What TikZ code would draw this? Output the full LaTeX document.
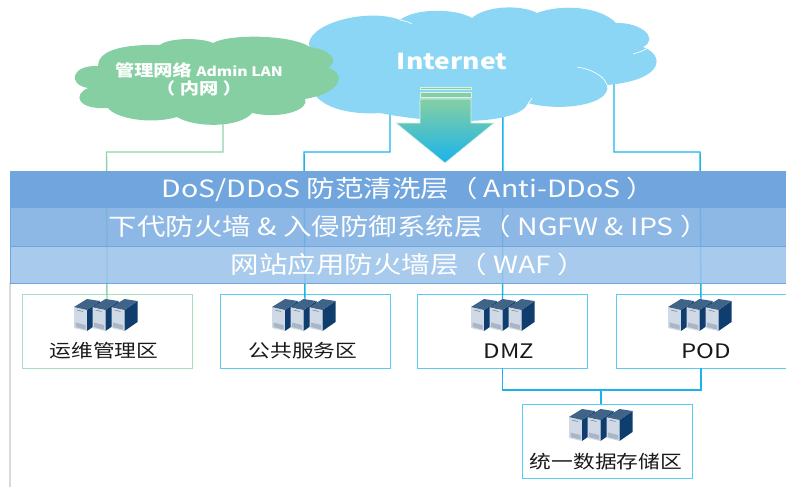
\documentclass[tikz,border=0pt]{standalone}
\usepackage{fontspec}
\setmainfont[FakeStretch=1.2]{Noto Sans CJK SC}
\definecolor{inetblue}{HTML}{8AD6F4}
\definecolor{langreen}{HTML}{85CFA2}
\definecolor{linkblue}{HTML}{1AB3EC}
\definecolor{linkgreen}{HTML}{8FD3AB}
\definecolor{boxblue}{HTML}{5CCBF3}
\definecolor{boxgreen}{HTML}{A5DFBD}
\definecolor{layerone}{HTML}{70A5DE}
\definecolor{layertwo}{HTML}{7DAEE1}
\definecolor{layerthree}{HTML}{9CC3E9}
\definecolor{layerline}{HTML}{6FA6DC}
\definecolor{unitfront}{HTML}{D0DAE6}
\definecolor{unitside}{HTML}{0F3D6E}
\definecolor{unittop}{HTML}{3F6488}
\definecolor{unitvent}{HTML}{A8B6C6}
\tikzset{
	bluelink/.style={draw=linkblue, line width=1.1pt},
	greenlink/.style={draw=linkgreen, line width=1.1pt},
	layer/.style={rectangle, draw=layerline, fill=#1, text=white, minimum width=582pt, inner sep=0pt, font=\fontsize{17.8}{20}\selectfont},
	zone/.style={rectangle, draw=#1, line width=0.7pt, minimum width=127.5pt, minimum height=55.5pt, inner sep=0pt},
	zonelabel/.style={inner sep=0pt, text=black!90, font=\fontsize{13.6}{16}\selectfont},
	cloudlabel/.style={inner sep=0pt, text=white},
	unit/.pic={
		\fill[unitfront] (0,0) -- (13,3) -- (13,24) -- (0,21) -- cycle;
		\fill[unitside] (13,3) -- (26,-6) -- (26,15) -- (13,24) -- cycle;
		\fill[unittop] (0,0) -- (13,3) -- (26,-6) -- (13,-8) -- cycle;
		\fill[unitvent] (1.5,15.5) -- (11.5,18) -- (11.5,22.5) -- (1.5,20) -- cycle;
		\draw[black!50, line width=0.4pt] (3,3) -- (9,4.5);
	},
	rack/.pic={
		\pic at (0,0) {unit};
		\pic at (18.5,0) {unit};
		\pic at (37.5,0) {unit};
	}
}
\begin{document}
\begin{tikzpicture}[x=0.75pt, y=-0.75pt]
	\useasboundingbox (0,0) rectangle (786,487);
	\draw[black!15, line width=0.8pt] (10,283) -- (10,487);

	\node[zone=boxgreen] (ops) at (107,331) {};
	\node[zone=boxblue] (pub) at (305,331) {};
	\node[zone=boxblue] (dmz) at (502.5,331) {};
	\node[zone=boxblue] (pod) at (701,331) {};
	\node[zone=boxblue] (store) at (607,441.5) {};

	\coordinate (lanfoot) at (223,120);
	\coordinate (inetleft) at (390,105);
	\coordinate (inetmid) at (503,105);
	\coordinate (inetright) at (614,80);
	\coordinate (turnops) at (106.5,152);
	\coordinate (turnpub) at (304,152);
	\coordinate (turnpod) at (700,152);
	\coordinate (busjoin) at (601,390);

	\draw[greenlink] (lanfoot) |- (turnops) -- ([yshift=-5pt]ops.north);
	\draw[bluelink] (inetleft) |- (turnpub) -- ([yshift=-5pt]pub.north);
	\draw[bluelink] (inetmid) -- ([yshift=-5pt]dmz.north);
	\draw[bluelink] (inetright) |- (turnpod) -- ([yshift=-5pt]pod.north);
	\draw[bluelink] (dmz.south) |- (busjoin) -| (pod.south);
	\draw[bluelink] (busjoin) -- (busjoin |- store.north);

	\node[layer=layerone, minimum height=27pt] (antiddos) at (398,189) {\hspace{16pt}DoS/DDoS 防范清洗层（ Anti-DDoS ）};
	\node[layer=layertwo, minimum height=29.25pt, fill opacity=0.88, text opacity=1] (ngfw) at (398,226.5) {\hspace{16pt}下代防火墙 \& 入侵防御系统层（ NGFW \& IPS ）};
	\node[layer=layerthree, minimum height=27.75pt, fill opacity=0.88, text opacity=1] (waf) at (398,264.5) {\hspace{16pt}网站应用防火墙层（ WAF ）};

	\fill[inetblue] (309,43)
		.. controls (312,22) and (370,8) .. (400,20)
		.. controls (415,8) and (455,8) .. (472,18)
		.. controls (485,6) and (520,4) .. (537,13)
		.. controls (560,4) and (600,6) .. (616,23)
		.. controls (640,22) and (660,38) .. (643,47)
		.. controls (665,55) and (665,80) .. (607,85)
		.. controls (612,105) and (560,112) .. (528,103)
		.. controls (520,125) and (440,125) .. (380,113)
		.. controls (350,115) and (325,108) .. (315,95)
		-- cycle;
	\draw[white, line width=0.5pt] (400,20) .. controls (405,21) and (409,22) .. (412,24);
	\draw[white, line width=0.5pt] (633,54) .. controls (640,52) and (646,50) .. (650,46);
	\draw[white, line width=0.5pt] (577,67) .. controls (590,69) and (604,75) .. (607,85);
	\draw[white, line width=0.5pt] (528,103) .. controls (530,102) and (531,100) .. (532,98);

	\fill[langreen] (98,66)
		.. controls (98,52) and (118,44) .. (160,45)
		.. controls (168,38) and (200,37) .. (213,43)
		.. controls (228,34) and (290,34) .. (310,47)
		.. controls (330,50) and (340,60) .. (328,68)
		.. controls (345,72) and (345,92) .. (305,99)
		.. controls (310,108) and (285,120) .. (252,113)
		.. controls (240,128) and (195,128) .. (177,117)
		.. controls (150,125) and (115,118) .. (108,108)
		.. controls (78,110) and (72,95) .. (88,88)
		.. controls (68,85) and (70,65) .. (98,66)
		-- cycle;

	\node[cloudlabel, font=\fontsize{16.5}{20}\bfseries\selectfont] (inet) at (452,61) {Internet};
	\node[cloudlabel, font=\bfseries] (lan) at (199,70) {\fontsize{12}{14}\selectfont 管理网络 \fontsize{9.8}{14}\selectfont Admin LAN};
	\node[cloudlabel, font=\fontsize{12}{14}\bfseries\selectfont] (lannote) at (199,88) {（ 内网 ）};

	\fill[langreen, draw=white!70!langreen, line width=0.5pt] (420,87) rectangle (471,89.5);
	\fill[langreen, draw=white!70!langreen, line width=0.5pt] (420,92) rectangle (471,97);
	\shade[top color=langreen, bottom color=linkblue, draw=white!70!langreen, line width=0.5pt] (420,99) -- (471,99) -- (471,123) -- (494,123) -- (445,163) -- (396,123) -- (420,123) -- cycle;

	\pic at (74,307) {rack};
	\pic at (272,307) {rack};
	\pic at (471,307) {rack};
	\pic at (668,307) {rack};
	\pic at (569,417) {rack};

	\node[zonelabel] (opslabel) at (104,351) {运维管理区};
	\node[zonelabel] (publabel) at (303,351) {公共服务区};
	\node[zonelabel, font=\fontsize{15}{16}\selectfont] (dmzlabel) at (509,351) {DMZ};
	\node[zonelabel, font=\fontsize{15}{16}\selectfont] (podlabel) at (706,351) {POD};
	\node[zonelabel] (storelabel) at (606,462) {统一数据存储区};
\end{tikzpicture}
\end{document}
